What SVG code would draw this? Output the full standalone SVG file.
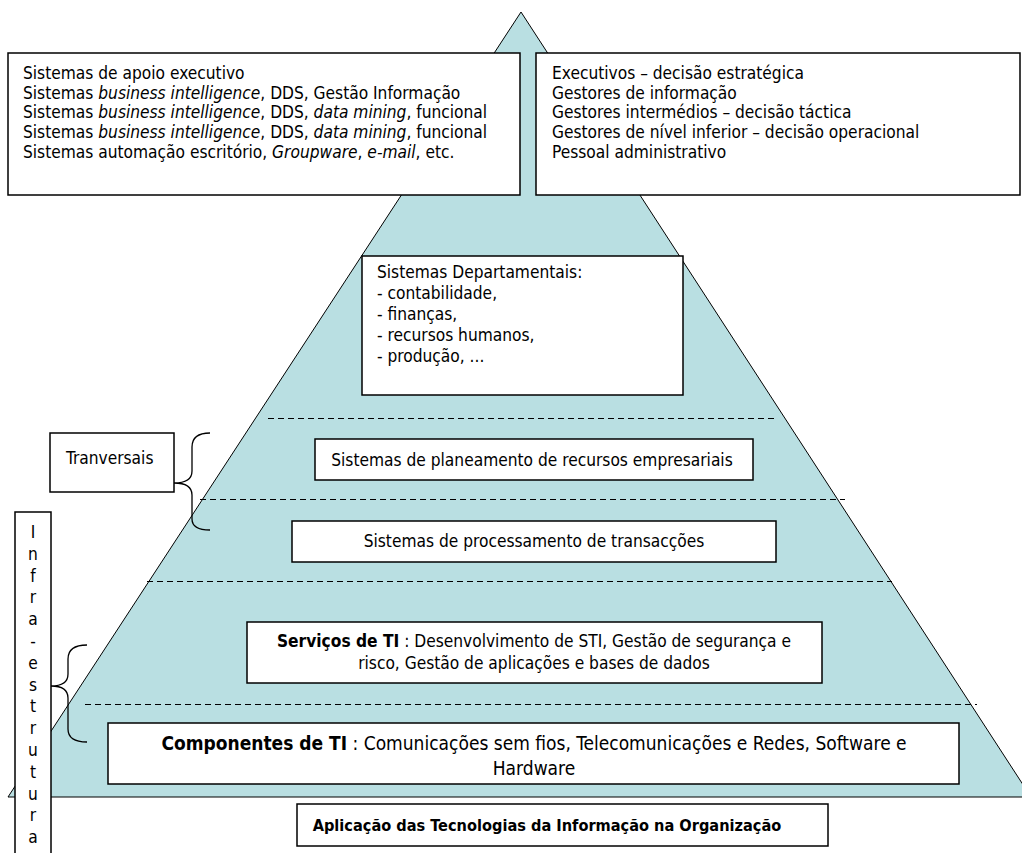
<svg xmlns="http://www.w3.org/2000/svg" width="1022" height="853" viewBox="0 0 1022 853">
<style>
text{font-family:"DejaVu Sans Condensed","DejaVu Sans",sans-serif;font-stretch:condensed;font-size:17.2px;fill:#000}
.box{fill:#fff;stroke:#000;stroke-width:1.5}
.dash{stroke:#000;stroke-width:1;stroke-dasharray:6 4;fill:none}
.brace{fill:none;stroke:#000;stroke-width:1.3}
.b{font-weight:bold}
.i{font-style:italic}
.c{text-anchor:middle}
</style>
<rect width="1022" height="853" fill="#fff"/>
<g id="pyramid">
<polygon points="521,12 8,797 1031,797" fill="#b9dfe2" stroke="#000" stroke-width="1"/>
</g>
<g id="connectors">
<line class="dash" x1="268" y1="418.5" x2="775" y2="418.5"/>
<line class="dash" x1="200" y1="499.5" x2="845" y2="499.5"/>
<line class="dash" x1="147" y1="581.5" x2="892" y2="581.5"/>
<line class="dash" x1="85" y1="704.5" x2="977" y2="704.5"/>
<path class="brace" d="M210,433 C198,433 192,437 192,447 L192,471 C192,479 186,483 174,483 C186,483 192,487 192,495 L192,519 C192,527 198,530 210,530"/>
<path class="brace" d="M87,645 C75,645 68,649 68,659 L68,674 C68,682 62,686 51,686 C62,686 68,690 68,698 L68,729 C68,738 75,742 87,742"/>
</g>
<g id="node-exec-systems">
<rect class="box" x="8" y="53" width="512" height="142"/>
<text x="23" y="79">Sistemas de apoio executivo</text>
<text x="23" y="98.7">Sistemas <tspan class="i">business intelligence</tspan>, DDS, Gestão Informação</text>
<text x="23" y="118.4">Sistemas <tspan class="i">business intelligence</tspan>, DDS, <tspan class="i">data mining</tspan>, funcional</text>
<text x="23" y="138.1">Sistemas <tspan class="i">business intelligence</tspan>, DDS, <tspan class="i">data mining</tspan>, funcional</text>
<text x="23" y="157.8">Sistemas automação escritório, <tspan class="i">Groupware</tspan>, <tspan class="i">e-mail</tspan>, etc.</text>
</g>
<g id="node-users">
<rect class="box" x="536" y="53" width="484" height="142"/>
<text x="552" y="79">Executivos – decisão estratégica</text>
<text x="552" y="98.7">Gestores de informação</text>
<text x="552" y="118.4">Gestores intermédios – decisão táctica</text>
<text x="552" y="138.1">Gestores de nível inferior – decisão operacional</text>
<text x="552" y="157.8">Pessoal administrativo</text>
</g>
<g id="node-departamentais">
<rect class="box" x="362" y="256" width="321" height="139"/>
<text x="377" y="278">Sistemas Departamentais:</text>
<text x="377" y="299">- contabilidade,</text>
<text x="377" y="320">- finanças,</text>
<text x="377" y="341">- recursos humanos,</text>
<text x="377" y="362">- produção, ...</text>
</g>
<g id="node-erp">
<rect class="box" x="315" y="439" width="438" height="41"/>
<text class="c" x="532" y="466">Sistemas de planeamento de recursos empresariais</text>
</g>
<g id="node-tps">
<rect class="box" x="292" y="521" width="484" height="41"/>
<text class="c" x="534" y="547">Sistemas de processamento de transacções</text>
</g>
<g id="node-servicos">
<rect class="box" x="247" y="622" width="575" height="61"/>
<text class="c" x="534" y="647"><tspan class="b">Serviços de TI</tspan> : Desenvolvimento de STI, Gestão de segurança e</text>
<text class="c" x="534" y="669">risco, Gestão de aplicações e bases de dados</text>
</g>
<g id="node-componentes">
<rect class="box" x="108" y="723" width="851" height="61"/>
<text class="c" x="534" y="750" style="font-size:19px"><tspan class="b">Componentes de TI</tspan> : Comunicações sem fios, Telecomunicações e Redes, Software e</text>
<text class="c" x="534" y="775" style="font-size:19px">Hardware</text>
</g>
<g id="node-aplicacao">
<rect class="box" x="297" y="804" width="531" height="42"/>
<text class="c b" x="547" y="831" style="font-size:16.2px">Aplicação das Tecnologias da Informação na Organização</text>
</g>
<g id="node-tranversais">
<rect class="box" x="50" y="433" width="124" height="59"/>
<text x="66" y="464">Tranversais</text>
</g>
<g id="node-infra">
<rect class="box" x="15" y="512" width="36" height="350"/>
<text class="c" x="33" y="538">I</text>
<text class="c" x="33" y="559.8">n</text>
<text class="c" x="33" y="581.6">f</text>
<text class="c" x="33" y="603.4">r</text>
<text class="c" x="33" y="625.2">a</text>
<text class="c" x="33" y="647">-</text>
<text class="c" x="33" y="668.8">e</text>
<text class="c" x="33" y="690.6">s</text>
<text class="c" x="33" y="712.4">t</text>
<text class="c" x="33" y="734.2">r</text>
<text class="c" x="33" y="756">u</text>
<text class="c" x="33" y="777.8">t</text>
<text class="c" x="33" y="799.6">u</text>
<text class="c" x="33" y="821.4">r</text>
<text class="c" x="33" y="843.2">a</text>
</g>
</svg>
